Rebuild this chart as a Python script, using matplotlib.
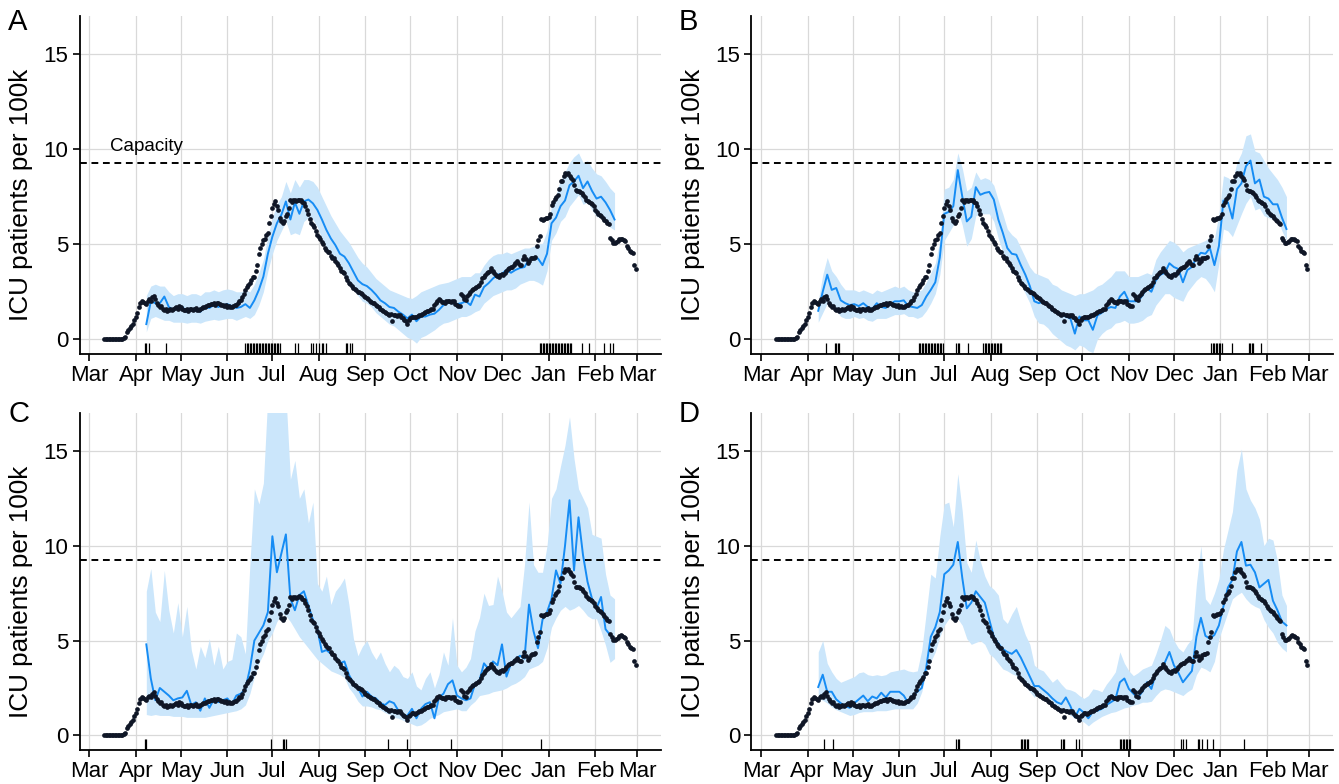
import numpy as np
import matplotlib.pyplot as plt
import matplotlib.dates as mdates

plt.rcParams['font.family'] = ['Liberation Sans', 'DejaVu Sans']

start = np.datetime64('2020-03-01')
capacity = 9.25

# observed ICU occupancy (daily, days 10..364 after 1 Mar 2020)
obs_days = np.arange(10, 365)
obs = [
    0.0, 0.0, 0.0, 0.0, 0.0, 0.0, 0.0, 0.0, 0.0, 0.0,
    0.0, 0.0, 0.0, 0.05, 0.1, 0.4, 0.5, 0.6, 0.7, 0.8,
    1.0, 1.2, 1.4, 1.7, 1.9, 2.0, 1.95, 1.9, 1.85, 2.0,
    2.1, 2.0, 2.2, 2.3, 2.1, 1.9, 1.8, 1.7, 1.75, 1.6,
    1.55, 1.6, 1.5, 1.55, 1.6, 1.55, 1.6, 1.65, 1.7, 1.6,
    1.75, 1.7, 1.6, 1.55, 1.55, 1.6, 1.5, 1.6, 1.6, 1.55,
    1.6, 1.65, 1.55, 1.55, 1.6, 1.65, 1.7, 1.7, 1.75, 1.8,
    1.8, 1.85, 1.85, 1.9, 1.8, 1.9, 1.9, 1.85, 1.8, 1.8,
    1.75, 1.8, 1.7, 1.75, 1.7, 1.7, 1.75, 1.8, 1.8, 1.9,
    2.0, 2.05, 2.2, 2.4, 2.6, 2.75, 2.85, 2.95, 3.1, 3.3,
    3.3, 3.6, 3.9, 4.5, 4.8, 5.0, 5.2, 5.3, 5.5, 5.6,
    6.1, 6.5, 6.9, 7.1, 7.25, 7.0, 6.8, 6.4, 6.2, 6.1,
    6.2, 6.5, 6.6, 6.9, 7.3, 7.2, 7.3, 7.3, 7.25, 7.3,
    7.35, 7.3, 7.2, 7.15, 7.0, 6.8, 6.6, 6.35, 6.1, 6.0,
    5.9, 5.7, 5.5, 5.4, 5.25, 5.1, 5.0, 4.8, 4.7, 4.6,
    4.6, 4.4, 4.3, 4.25, 4.1, 4.0, 3.9, 3.75, 3.6, 3.55,
    3.5, 3.3, 3.1, 2.95, 2.9, 2.8, 2.7, 2.65, 2.6, 2.5,
    2.5, 2.45, 2.4, 2.3, 2.2, 2.15, 2.1, 2.0, 1.95, 1.9,
    1.9, 1.8, 1.75, 1.7, 1.6, 1.55, 1.5, 1.45, 1.4, 1.35,
    1.3, 1.35, 0.95, 1.3, 1.3, 1.25, 1.3, 1.3, 1.2, 1.1,
    1.0, 0.95, 0.8, 1.0, 1.1, 1.2, 1.2, 1.15, 1.2, 1.25,
    1.3, 1.3, 1.35, 1.4, 1.45, 1.5, 1.5, 1.55, 1.6, 1.6,
    1.8, 1.9, 2.0, 2.1, 2.05, 1.95, 1.95, 1.9, 2.0, 2.0,
    2.0, 1.95, 2.0, 2.0, 1.85, 1.8, 1.75, 1.75, 2.4, 2.3,
    2.1, 2.05, 2.3, 2.4, 2.5, 2.6, 2.65, 2.7, 2.75, 2.8,
    2.85, 3.0, 3.2, 3.3, 3.4, 3.5, 3.55, 3.6, 3.75, 3.6,
    3.5, 3.4, 3.35, 3.3, 3.4, 3.45, 3.4, 3.5, 3.6, 3.7,
    3.75, 3.8, 3.8, 3.9, 4.0, 4.1, 4.0, 3.9, 3.9, 4.2,
    4.4, 4.2, 4.0, 4.1, 4.25, 4.3, 4.3, 4.35, 4.9, 5.2,
    5.45, 6.35, 6.3, 6.35, 6.4, 6.4, 6.45, 6.6, 7.05, 7.2,
    7.4, 7.5, 7.6, 7.9, 8.3, 8.3, 8.6, 8.75, 8.7, 8.75,
    8.6, 8.5, 8.4, 8.1, 7.85, 7.8, 7.8, 7.75, 7.7, 7.6,
    7.5, 7.35, 7.25, 7.2, 7.15, 7.1, 7.0, 6.8, 6.7, 6.6,
    6.55, 6.5, 6.4, 6.3, 6.2, 6.1, 6.05, 5.35, 5.2, 5.05,
    5.05, 5.1, 5.15, 5.25, 5.3, 5.25, 5.2, 5.15, 4.9, 4.8,
    4.65, 4.6, 4.55, 3.9, 3.7,
]

# model estimates, every 3rd day from day 38 to day 350
model_days = np.arange(38, 351, 3)

a_line = [0.8, 2.0, 1.9, 1.9, 2.25, 1.7, 1.55,
          1.65, 1.7, 1.45, 1.55, 1.65, 1.45, 1.7,
          1.65, 1.8, 1.7, 1.8, 1.85, 1.75, 1.65,
          1.7, 1.85, 1.65, 2.05, 2.6, 3.3, 4.5,
          5.4, 6.1, 6.55, 7.25, 6.3, 7.2, 6.6,
          7.25, 7.35, 7.15, 6.8, 6.3, 5.75, 5.3,
          4.95, 4.5, 4.35, 4.0, 3.55, 3.1, 2.9,
          2.8, 2.6, 2.35, 2.05, 1.9, 1.7, 1.65,
          1.45, 1.3, 1.1, 1.3, 0.95, 1.2, 1.2,
          1.3, 1.35, 1.55, 1.8, 1.95, 1.9, 1.85,
          1.9, 2.0, 1.8, 2.35, 2.25, 2.75, 2.95,
          3.2, 3.4, 3.45, 3.65, 3.5, 3.65, 3.75,
          3.8, 4.2, 4.25, 4.25, 3.9, 4.5, 6.1,
          6.4, 7.0, 7.3, 8.1, 8.3, 8.6, 7.95,
          8.3, 7.8, 7.4, 7.5, 7.2, 6.8, 6.3]
a_lower = [0.4, 1.1, 1.2, 1.1, 1.0, 1.0, 0.9,
           0.9, 0.9, 0.85, 0.9, 0.9, 0.85, 0.95,
           1.0, 1.05, 1.0, 1.05, 1.1, 1.1, 1.0,
           1.1, 1.2, 1.1, 1.3, 1.8, 2.5, 3.6,
           4.5, 5.2, 5.7, 6.2, 5.5, 5.6, 5.5,
           6.2, 6.4, 6.3, 5.9, 5.3, 4.8, 4.4,
           4.0, 3.6, 3.3, 3.0, 2.6, 2.3, 2.0,
           1.9, 1.7, 1.4, 1.2, 1.0, 0.8, 0.7,
           0.5, 0.3, 0.1, 0.0, -0.2, 0.1, 0.2,
           0.35, 0.5, 0.7, 0.85, 0.9, 1.0, 1.1,
           1.2, 1.2, 1.3, 1.45, 1.55, 1.9, 2.1,
           2.3, 2.4, 2.5, 2.6, 2.6, 2.7, 2.9,
           3.0, 3.1, 3.1, 3.0, 2.85, 3.6, 5.2,
           5.6, 6.2, 6.45, 7.0, 7.3, 7.6, 7.1,
           7.2, 6.8, 6.45, 6.4, 6.1, 5.9, 5.75]
a_upper = [2.3, 2.8, 2.9, 2.8, 2.8, 2.5, 2.3,
           2.4, 2.4, 2.3, 2.4, 2.4, 2.3, 2.5,
           2.5, 2.6, 2.5, 2.6, 2.65, 2.6, 2.5,
           2.5, 2.6, 2.5, 2.9, 3.5, 4.2, 5.4,
           6.4, 7.1, 7.5, 8.3, 7.7, 8.4, 8.0,
           8.4, 8.4, 8.3, 8.0, 7.5, 7.0, 6.5,
           6.1, 5.7, 5.4, 5.1, 4.7, 4.3, 4.0,
           3.8, 3.5, 3.2, 3.0, 2.8, 2.6, 2.5,
           2.4, 2.3, 2.2, 2.15, 2.3, 2.5, 2.6,
           2.7, 2.8, 2.9, 2.95, 3.0, 3.1, 3.2,
           3.3, 3.3, 3.3, 3.5, 3.5, 3.9, 4.2,
           4.4, 4.5, 4.5, 4.6, 4.5, 4.6, 4.7,
           4.8, 4.8, 4.9, 5.0, 5.05, 5.7, 7.0,
           7.6, 8.4, 8.8, 9.3, 9.6, 9.8, 9.3,
           9.4, 9.0, 8.7, 8.6, 8.3, 7.95, 7.7]

b_line = [1.5, 2.5, 3.4, 2.6, 2.7, 2.05, 1.9,
          1.8, 1.85, 1.75, 1.9, 1.7, 1.6, 1.9,
          1.7, 1.65, 1.85, 2.0, 2.0, 2.05, 1.75,
          1.7, 1.65, 1.8, 2.25, 2.6, 3.0, 4.3,
          6.6, 6.7, 7.0, 8.9, 7.5, 6.2, 6.45,
          8.0, 7.6, 7.7, 7.75, 7.35, 6.3, 5.6,
          4.8, 4.5, 4.45, 3.9, 3.4, 2.8, 2.0,
          1.9, 2.0, 1.8, 1.5, 1.45, 1.3, 1.2,
          1.1, 0.3, 1.2, 1.0, 1.0, 0.5, 1.25,
          1.4, 1.6, 1.7, 1.65, 2.25, 2.5, 2.0,
          2.0, 2.0, 2.3, 2.7, 2.5, 3.1, 3.4,
          3.5, 4.0, 3.8, 3.7, 3.0, 3.65, 3.8,
          4.3, 4.55, 4.5, 4.8, 3.9, 4.9, 7.3,
          7.2, 6.35, 7.9, 8.2, 9.1, 9.4, 8.2,
          8.4, 7.5, 7.4, 7.1, 7.1, 6.4, 5.8]
b_lower = [0.9, 1.4, 1.9, 1.7, 1.5, 1.2, 1.1,
           1.1, 1.2, 1.1, 1.15, 1.0, 0.95, 1.1,
           1.1, 1.1, 1.2, 1.3, 1.3, 1.35, 1.2,
           1.2, 1.1, 1.2, 1.5, 1.9, 2.4, 3.4,
           5.2, 5.6, 6.0, 6.8, 6.0, 4.9, 5.3,
           6.5, 6.6, 6.6, 6.6, 6.2, 5.3, 4.6,
           3.9, 3.5, 3.4, 2.9, 2.4, 1.9, 1.2,
           0.85, 0.8, 0.6, 0.3, 0.1, -0.1, -0.3,
           -0.4, -0.55, -0.3, -0.4, -0.6, -0.7, 0.0,
           0.3, 0.5, 0.6, 0.85, 0.9, 1.0, 0.85,
           0.85, 0.9, 1.0, 1.2, 1.3, 1.8, 2.1,
           2.4, 2.4, 2.2, 2.1, 2.0, 2.5, 2.8,
           3.1, 3.3, 3.2, 2.9, 2.5, 4.0, 5.8,
           5.7, 5.4, 6.0, 6.6, 7.15, 7.5, 6.8,
           6.9, 6.5, 6.4, 6.3, 6.3, 5.7, 5.2]
b_upper = [2.0, 3.4, 4.3, 3.6, 3.3, 2.9, 2.6,
           2.6, 2.6, 2.5, 2.6, 2.5, 2.4, 2.6,
           2.5, 2.6, 2.7, 2.8, 2.7, 2.8, 2.6,
           2.5, 2.5, 2.6, 3.0, 3.5, 4.0, 5.2,
           7.9, 8.0, 8.4, 9.8, 9.0, 7.8, 8.0,
           8.8, 8.4, 8.5, 8.4, 8.1, 7.3, 6.6,
           5.8, 5.5, 5.3, 4.8, 4.3, 3.8, 3.5,
           3.4, 3.3, 3.2, 2.9, 2.8, 2.6, 2.5,
           2.4, 2.3, 2.4, 2.4, 2.5, 2.6, 2.8,
           2.9, 3.1, 3.3, 3.6, 3.6, 3.6, 3.3,
           3.3, 3.3, 3.4, 3.5, 3.4, 4.2, 4.6,
           4.9, 5.2, 5.1, 4.9, 4.6, 4.8, 4.9,
           5.0, 5.1, 5.2, 5.4, 5.3, 6.6, 8.6,
           8.5, 8.3, 9.3, 9.8, 10.7, 10.8, 9.9,
           9.8, 9.4, 9.0, 8.7, 8.4, 8.0, 7.5]

c_line = [4.8, 3.0, 1.85, 2.5, 2.3, 2.1, 1.85,
          1.95, 2.0, 2.35, 1.6, 1.75, 1.3, 1.95,
          1.45, 1.9, 1.75, 1.85, 1.95, 1.65, 2.1,
          2.2, 2.45, 3.5, 5.0, 5.4, 5.8, 6.5,
          10.5, 8.6, 9.6, 10.6, 7.2, 6.6, 7.4,
          7.6, 6.85, 6.1, 5.6, 4.4, 4.5, 4.3,
          4.15, 3.8, 3.9, 3.2, 2.75, 2.5, 2.05,
          2.3, 2.05, 1.95, 1.7, 1.6, 1.8, 1.7,
          1.3, 1.0, 1.05, 1.4, 0.9, 1.4, 1.65,
          1.75, 0.9, 2.0, 2.2, 2.7, 2.9, 2.1,
          1.95, 1.85, 1.95, 2.7, 2.9, 3.8, 3.5,
          3.9, 3.7, 4.8, 3.1, 3.8, 4.0, 4.2,
          4.05, 6.9, 5.5, 4.6, 6.1, 6.5, 7.2,
          8.7, 8.0, 10.0, 12.4, 8.7, 11.5, 9.5,
          8.1, 7.2, 6.7, 7.3, 5.6, 5.3, 5.1]
c_lower = [1.1, 1.05, 1.1, 1.05, 1.05, 1.05, 1.0,
           1.0, 1.0, 0.95, 0.95, 0.95, 0.95, 0.95,
           1.0, 1.05, 1.1, 1.15, 1.2, 1.25, 1.3,
           1.4, 1.6, 2.2, 3.1, 3.8, 4.3, 5.0,
           5.4, 6.0, 6.4, 6.3, 6.0, 5.6, 5.2,
           4.9, 4.6, 4.3, 4.0, 3.8, 3.6, 3.4,
           3.3, 3.2, 3.05, 2.5, 2.2, 1.8, 1.55,
           1.55, 1.5, 1.4, 1.35, 1.2, 1.1, 0.95,
           0.9, 0.8, 0.7, 0.6, 0.5, 0.55, 0.7,
           0.9, 1.0, 1.1, 1.25, 1.3, 1.35, 1.4,
           1.3, 1.3, 1.6, 1.8, 2.1, 2.15, 2.2,
           2.3, 2.35, 2.4, 2.5, 2.65, 2.75, 2.9,
           3.1, 3.5, 3.6, 3.7, 3.9, 4.6, 5.7,
           6.2, 6.6, 6.8, 6.6, 6.7, 6.85, 6.6,
           6.3, 6.15, 6.15, 5.5, 4.75, 3.85, 4.05]
c_upper = [7.6, 8.8, 6.5, 6.0, 8.7, 6.6, 5.4,
           7.0, 5.2, 6.8, 4.5, 3.5, 4.7, 4.1,
           5.1, 3.7, 4.7, 3.5, 3.9, 4.0, 5.4,
           5.2, 4.3, 9.0, 13.0, 12.2, 13.3, 18.0,
           18.0, 18.0, 18.0, 18.0, 13.5, 14.5, 12.5,
           13.0, 11.2, 12.3, 8.0, 7.6, 8.4, 6.9,
           7.6, 7.9, 8.3, 6.9, 5.1, 4.2, 4.7,
           5.0, 4.4, 4.0, 4.4, 3.8, 3.35, 3.7,
           3.5, 3.1, 3.0, 3.35, 2.6, 2.4, 3.0,
           3.35, 2.5, 3.2, 4.4, 3.7, 6.2, 3.7,
           3.35, 3.6, 4.05, 5.5, 6.2, 7.5, 6.85,
           6.9, 8.4, 7.6, 6.5, 6.2, 6.5, 6.8,
           9.0, 12.3, 9.0, 8.6, 8.6, 10.0, 12.5,
           13.0, 14.2, 15.3, 16.8, 14.6, 13.0, 12.5,
           12.0, 10.6, 10.5, 10.4, 8.5, 7.4, 7.2]

d_line = [2.55, 3.2, 2.3, 2.3, 1.9, 1.7, 1.55,
          1.45, 1.7, 1.9, 2.1, 1.8, 2.05, 1.95,
          2.25, 2.0, 2.3, 2.3, 2.3, 2.1, 1.7,
          2.1, 2.3, 2.5, 3.6, 5.2, 5.7, 6.5,
          8.5, 8.7, 9.0, 10.2, 8.3, 6.7, 7.0,
          7.6, 7.3, 7.0, 6.1, 5.2, 4.85, 4.55,
          4.4, 4.3, 4.5, 4.1, 3.6, 3.1, 2.6,
          2.6, 2.4, 2.2, 1.95, 1.75, 1.65, 2.0,
          1.55, 0.95, 1.4, 1.2, 0.9, 1.25, 1.3,
          1.4, 1.6, 1.75, 1.9, 2.8, 3.0, 2.45,
          2.2, 2.0, 2.3, 2.8, 2.45, 3.3, 3.5,
          3.85, 4.4, 3.7, 3.3, 2.8, 3.1, 3.4,
          5.2, 6.2, 5.25, 5.1, 5.3, 5.8, 6.8,
          7.8, 8.2, 9.7, 10.2, 8.95, 9.0, 8.6,
          7.8, 8.0, 8.2, 7.1, 6.6, 6.0, 5.8]
d_lower = [1.95, 1.85, 1.7, 1.5, 1.35, 1.25, 1.15,
           1.05, 1.1, 1.2, 1.25, 1.25, 1.25, 1.3,
           1.3, 1.3, 1.35, 1.4, 1.4, 1.4, 1.4,
           1.4, 1.7, 2.3, 3.35, 3.9, 4.4, 5.2,
           5.8, 6.15, 6.3, 6.15, 5.8, 5.1, 4.8,
           4.9, 5.0, 4.8, 4.3, 4.1, 3.8, 3.5,
           3.4, 3.25, 3.15, 2.9, 2.6, 2.3, 2.0,
           2.3, 2.0, 1.8, 1.6, 1.45, 1.3, 1.2,
           1.05, 0.95, 0.8, 0.7, 0.5, 0.7, 0.85,
           1.0, 1.1, 1.2, 1.25, 1.35, 1.45, 1.5,
           1.6, 1.65, 1.75, 1.75, 1.8, 2.1, 2.35,
           2.45, 2.4, 2.3, 2.2, 2.1, 2.3, 2.45,
           3.2, 3.6, 3.5, 3.35, 3.9, 5.1, 5.8,
           6.5, 7.2, 7.4, 7.55, 7.2, 6.95, 6.8,
           6.7, 6.1, 5.7, 5.4, 4.9, 4.6, 4.4]
d_upper = [4.4, 5.0, 3.8, 3.35, 3.0, 2.8, 2.9,
           3.0, 3.1, 3.3, 3.35, 3.2, 3.15, 3.2,
           3.15, 3.2, 3.35, 3.4, 3.45, 3.5, 3.4,
           3.35, 3.4, 4.5, 6.5, 8.5, 8.3, 10.5,
           12.2, 12.3, 11.0, 13.8, 11.8, 9.1, 8.6,
           10.3, 9.2, 8.4, 7.9, 7.7, 7.4, 6.15,
           5.9, 6.4, 6.8, 6.0, 5.3, 4.8, 3.7,
           3.5, 3.4, 3.1, 2.8, 3.0, 2.7, 2.45,
           2.4, 2.3, 2.1, 1.95, 2.1, 2.45, 2.4,
           2.3, 2.7, 3.0, 3.35, 4.4, 3.8, 3.4,
           3.15, 3.3, 3.5, 3.6, 3.7, 4.3, 5.0,
           5.8, 5.6, 5.0, 4.6, 4.4, 4.8, 5.1,
           8.0, 10.0, 7.2, 6.9, 7.5, 8.25, 9.8,
           10.8, 11.8, 14.0, 15.1, 13.0, 12.4, 12.0,
           11.4, 10.0, 10.4, 10.3, 9.2, 7.4, 6.85]

# rug marks (days after 1 Mar 2020)
a_rug = [37, 38, 40, 51,
         104, 105, 106, 107, 108, 109, 110, 111, 112, 113, 114, 115,
         116, 117, 118, 119, 120, 121, 122, 123, 124, 125, 126, 127,
         137, 139, 148, 149, 151, 153, 155, 156, 158, 171, 172, 174, 175,
         300, 301, 302, 303, 304, 305, 306, 307, 308, 309, 310, 311,
         312, 313, 314, 315, 316, 317, 318, 319, 320, 321,
         328, 333, 343, 347, 349]
b_rug = [43, 49, 50, 51, 52,
         105, 106, 107, 108, 109, 110, 111, 112, 113, 114, 115, 116,
         117, 118, 119, 120, 121, 130, 131, 132, 138,
         148, 149, 150, 151, 152, 153, 154, 155, 156, 157, 158, 159, 160,
         300, 301, 302, 303, 304, 305, 306, 307, 314,
         325, 326, 327, 328, 333]
c_rug = [37, 38, 121, 129, 130, 131, 199, 212, 241, 301]
d_rug = [42, 48, 130, 131, 132, 173, 174, 175, 176, 177, 178,
         200, 201, 202, 210, 212, 239, 240, 241, 242, 243, 244, 245, 246,
         280, 281, 283, 291, 292, 294, 297, 301, 322]

panel_letters = ['A', 'B', 'C', 'D']

fig = plt.figure(figsize=(13.39, 7.84), dpi=100)
positions = [[0.0594, 0.5485, 0.4343, 0.4311],
             [0.5612, 0.5485, 0.4343, 0.4311],
             [0.0594, 0.0434, 0.4343, 0.4298],
             [0.5612, 0.0434, 0.4343, 0.4298]]
letter_xy = [(0.006, 0.990), (0.507, 0.990), (0.006, 0.490), (0.507, 0.490)]

lines = [a_line, b_line, c_line, d_line]
lowers = [a_lower, b_lower, c_lower, d_lower]
uppers = [a_upper, b_upper, c_upper, d_upper]
rugs = [a_rug, b_rug, c_rug, d_rug]

obs_dates = start + obs_days
model_dates = start + model_days
months = np.arange('2020-03', '2021-04', dtype='datetime64[M]').astype('datetime64[D]')
ymin, ymax = -0.77, 17.0

for i in range(4):
    ax = fig.add_axes(positions[i])
    ax.fill_between(model_dates, lowers[i], uppers[i], color='#cbe6fb', lw=0, zorder=2)
    ax.axhline(capacity, color='black', ls=(0, (3.5, 2.4)), lw=1.4, zorder=3)
    ax.plot(model_dates, lines[i], color='#168cf4', lw=1.4, zorder=4)
    ax.plot(obs_dates, obs, 'o', ms=3.4, color='#0f1626', mew=0, zorder=5)
    ax.vlines(start + np.array(rugs[i]), ymin, -0.2, color='black', lw=0.9, zorder=5)

    ax.set_xlim(np.datetime64('2020-02-23T12:00'), np.datetime64('2021-03-17'))
    ax.set_ylim(ymin, ymax)
    ax.set_xticks(months)
    ax.xaxis.set_major_formatter(mdates.DateFormatter('%b'))
    ax.set_yticks([0, 5, 10, 15])
    ax.grid(True, color='#d9d9d9', lw=0.9)
    ax.set_axisbelow(True)
    for s in ['top', 'right']:
        ax.spines[s].set_visible(False)
    for s in ['left', 'bottom']:
        ax.spines[s].set_linewidth(1.3)
    ax.tick_params(direction='out', length=5, width=1.2, labelsize=16, pad=3)
    ax.set_ylabel('ICU patients per 100k', fontsize=18.8)
    ax.yaxis.set_label_coords(-0.08, 0.47)
    fig.text(letter_xy[i][0], letter_xy[i][1], panel_letters[i], fontsize=21, va='top')
    if i == 0:
        ax.text(start + 14, 9.9, 'Capacity', fontsize=13.5, va='baseline')

fig.savefig('out.png', dpi=100)
